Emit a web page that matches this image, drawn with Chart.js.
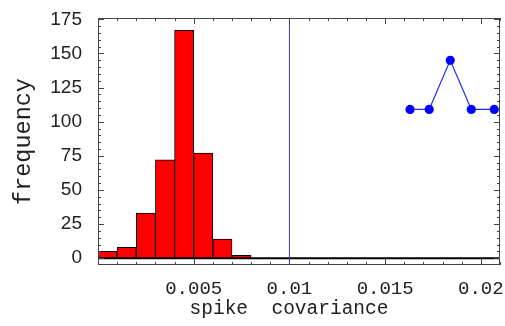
<!DOCTYPE html>
<html>
<head>
<meta charset="utf-8">
<script src="https://cdn.jsdelivr.net/npm/chart.js@4"></script>
<style>
  html, body { margin: 0; padding: 0; background: #fff; overflow: hidden; }
</style>
</head>
<body>
<canvas id="chart" width="505" height="326"></canvas>
<script>
// === DATA ===
const binCenters = [0.0005, 0.0015, 0.0025, 0.0035, 0.0045, 0.0055, 0.0065, 0.0075];
const binCounts  = [5, 8, 33, 72, 167, 77, 14, 2];

const pointX = [0.0163, 0.0173, 0.0184, 0.0195, 0.0207];
const pointY = [109, 109, 145, 109, 109];

const refX = 0.01;

const xRange = [0, 0.021];
const yRange = [-5, 176];
const xTicks = [0.005, 0.01, 0.015, 0.02];
const yTicks = [0, 25, 50, 75, 100, 125, 150, 175];

const xTitle = 'spike  covariance';
const yTitle = 'frequency';

// === FRAME + INNER TICKS + X TITLE ===
const framePlugin = {
    id: 'frame',
    afterDatasetsDraw(chart) {
        const { ctx, chartArea: a, scales: { x, y } } = chart;
        ctx.save();
        ctx.strokeStyle = '#444';
        ctx.lineWidth = 1;
        ctx.beginPath();
        // y minor ticks every 5, major every 25
        for (let v = 0; v <= yRange[1]; v += 5) {
            const py = Math.round(y.getPixelForValue(v)) + 0.5;
            const len = v % 25 === 0 ? 6 : 3;
            ctx.moveTo(a.left, py); ctx.lineTo(a.left + len, py);
            ctx.moveTo(a.right, py); ctx.lineTo(a.right - len, py);
        }
        // x minor ticks every 0.001, major every 0.005
        for (let i = 1; i * 0.001 <= xRange[1] + 1e-9; i++) {
            const px = Math.round(x.getPixelForValue(i * 0.001)) + 0.5;
            const len = i % 5 === 0 ? 6 : 3;
            ctx.moveTo(px, a.bottom); ctx.lineTo(px, a.bottom - len);
            ctx.moveTo(px, a.top); ctx.lineTo(px, a.top + len);
        }
        ctx.stroke();
        ctx.strokeRect(Math.round(a.left) + 0.5, Math.round(a.top) + 0.5,
                       Math.round(a.right - a.left) - 1, Math.round(a.bottom - a.top) - 1);

        // x axis title, a bit left of centre like the original
        ctx.fillStyle = '#222';
        ctx.font = '19.5px "Liberation Mono"';
        ctx.textAlign = 'center';
        ctx.textBaseline = 'middle';
        ctx.fillText(xTitle, (a.left + a.right) / 2 - 10, 309);
        ctx.restore();
    }
};

// === CHART ===
const ctx = document.getElementById('chart').getContext('2d');
new Chart(ctx, {
    type: 'bar',
    data: {
        datasets: [
            {
                type: 'line',
                data: [{ x: xRange[0], y: 0 }, { x: xRange[1], y: 0 }],
                borderColor: '#000',
                borderWidth: 2,
                pointRadius: 0,
                order: 1
            },
            {
                type: 'bar',
                data: binCenters.map((c, i) => ({ x: c, y: binCounts[i] })),
                backgroundColor: '#ff0000',
                borderColor: '#000',
                borderWidth: 1,
                barPercentage: 1,
                categoryPercentage: 1,
                order: 2
            },
            {
                type: 'line',
                data: [{ x: refX, y: yRange[0] }, { x: refX, y: yRange[1] }],
                borderColor: '#3a3ab4',
                borderWidth: 1,
                pointRadius: 0,
                order: 0
            },
            {
                type: 'line',
                data: pointX.map((px, i) => ({ x: px, y: pointY[i] })),
                borderColor: '#1a2cff',
                backgroundColor: '#0000ff',
                borderWidth: 1.2,
                pointRadius: 4.6,
                pointBorderWidth: 0,
                clip: false,
                order: 0
            }
        ]
    },
    options: {
        responsive: false,
        animation: false,
        events: [],
        layout: { padding: { top: 18, right: 5, left: 0, bottom: 0 } },
        plugins: { legend: { display: false }, tooltip: { enabled: false } },
        scales: {
            x: {
                type: 'linear',
                min: xRange[0],
                max: xRange[1],
                offset: false,
                afterBuildTicks: s => { s.ticks = xTicks.map(v => ({ value: v })); },
                afterFit: s => { s.height = 61; s.paddingLeft = 0; s.paddingRight = 0; },
                grid: { display: false, drawTicks: false },
                border: { display: false },
                ticks: {
                    padding: 13,
                    maxRotation: 0,
                    autoSkip: false,
                    color: '#222',
                    font: { family: 'Liberation Mono', size: 19 },
                    callback: v => String(v)
                }
            },
            y: {
                min: yRange[0],
                max: yRange[1],
                afterBuildTicks: s => { s.ticks = yTicks.map(v => ({ value: v })); },
                afterFit: s => { s.width = 98; s.paddingTop = 0; s.paddingBottom = 0; },
                grid: { display: false, drawTicks: false },
                border: { display: false },
                ticks: {
                    padding: 16,
                    autoSkip: false,
                    color: '#222',
                    font: { family: 'Liberation Sans', size: 19 }
                },
                title: {
                    display: true,
                    text: yTitle,
                    color: '#222',
                    padding: 10,
                    font: { family: 'Liberation Mono', size: 23.5 }
                }
            }
        }
    },
    plugins: [framePlugin]
});
</script>
</body>
</html>
